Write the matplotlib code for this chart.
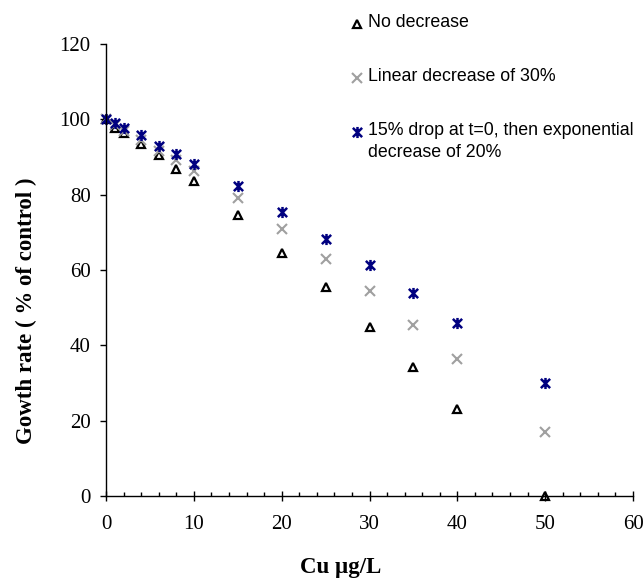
import matplotlib
matplotlib.use("agg")
import matplotlib.pyplot as plt
from matplotlib.lines import Line2D
from matplotlib.path import Path
from matplotlib.ticker import MultipleLocator

# Cu concentration (ug/L) and growth rate as % of control
cu = [0, 1, 2, 4, 6, 8, 10, 15, 20, 25, 30, 35, 40, 50]
no_decrease = [100, 97.8, 96.5, 93.4, 90.4, 86.8, 83.6, 74.7, 64.6, 55.4, 45.0, 34.3, 23.1, 0]
linear_30 = [100, 98.4, 97.0, 94.5, 91.5, 89.1, 86.2, 79.1, 71.0, 63.0, 54.5, 45.5, 36.4, 17.1]
exp_drop = [100, 98.9, 97.6, 95.8, 92.9, 90.7, 88.1, 82.2, 75.4, 68.3, 61.4, 53.9, 46.0, 30.0]

labels = [
    "No decrease",
    "Linear decrease of 30%",
    "15% drop at t=0, then exponential\ndecrease of 20%",
]

# Excel-style star: an x with a vertical bar through it
star = Path(
    [(-1, -1), (1, 1), (-1, 1), (1, -1), (0, -1.2), (0, 1.2)],
    [Path.MOVETO, Path.LINETO, Path.MOVETO, Path.LINETO, Path.MOVETO, Path.LINETO],
)

styles = [
    dict(marker="^", ms=6, mfc="none", mec="black", mew=1.6),
    dict(marker="x", ms=7, mec="#a0a0a0", mew=1.5),
    dict(marker=star, ms=8, mec="#000080", mew=1.8),
]

W, H = 644, 579
fig = plt.figure(figsize=(W / 100, H / 100), dpi=100)
ax = fig.add_axes([106 / W, 1 - 496 / H, (633 - 106) / W, (496 - 44) / H])

for ys, st in zip([no_decrease, linear_30, exp_drop], styles):
    ax.plot(cu, ys, linestyle="none", clip_on=False, **st)

ax.set_xlim(0, 60)
ax.set_ylim(0, 120)
ax.xaxis.set_major_locator(MultipleLocator(10))
ax.xaxis.set_minor_locator(MultipleLocator(2))
ax.yaxis.set_major_locator(MultipleLocator(20))

for side in ("top", "right"):
    ax.spines[side].set_visible(False)
for side in ("left", "bottom"):
    ax.spines[side].set_linewidth(1.0)

ax.tick_params(axis="x", which="major", direction="inout", length=7, width=1, pad=10)
ax.tick_params(axis="x", which="minor", direction="in", length=3, width=1)
ax.tick_params(axis="y", which="major", direction="out", length=4, width=1, pad=7)

for lbl in ax.get_xticklabels() + ax.get_yticklabels():
    lbl.set_fontfamily("Liberation Serif")
    lbl.set_fontsize(15)

fig.text(341 / W, 1 - 568 / H, "Cu µg/L", family="Liberation Serif",
         weight="bold", size=16.5, ha="center", va="center")
fig.text(26 / W, 1 - 311 / H, "Gowth rate ( % of control )", family="Liberation Serif",
         weight="bold", size=16.5, ha="center", va="center", rotation=90)

# legend drawn without a frame, marker then text
rows_y = [24, 78, 132]
for lab, st, y in zip(labels, styles, rows_y):
    fig.add_artist(Line2D([357 / W], [1 - y / H], transform=fig.transFigure,
                          linestyle="none", **st))
    fig.text(368 / W, 1 - (y - 10) / H, lab, family="Liberation Sans", size=12.8,
             ha="left", va="top", linespacing=1.4)

fig.savefig("out.png", dpi=100)
